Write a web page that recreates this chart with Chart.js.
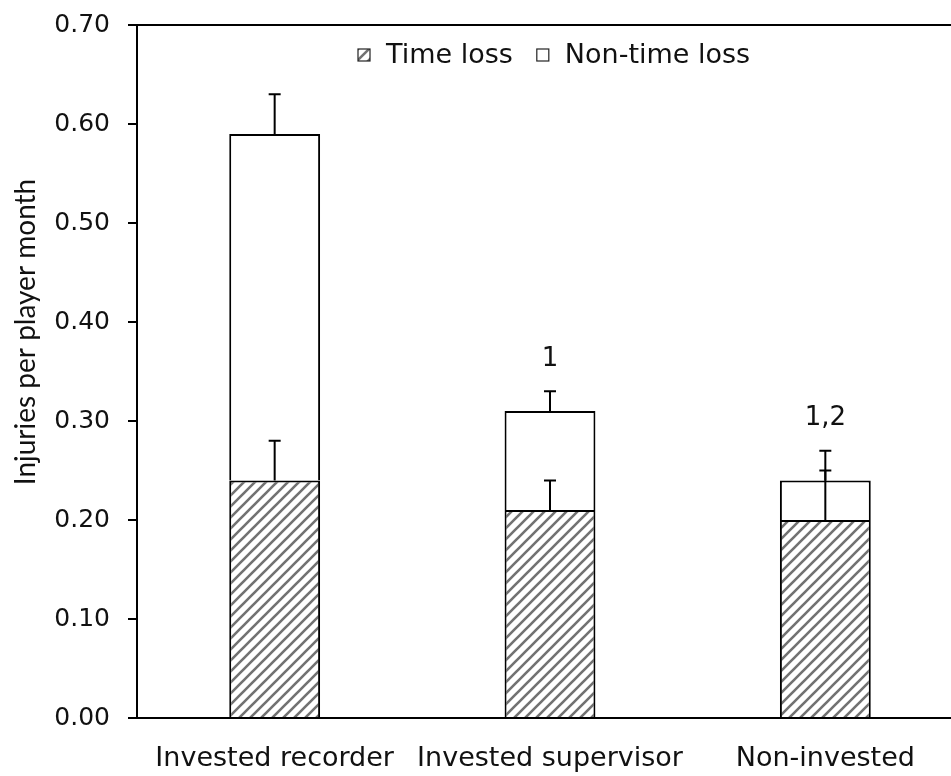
<!DOCTYPE html>
<html>
<head>
<meta charset="utf-8">
<script src="https://cdn.jsdelivr.net/npm/chart.js@4.4.1/dist/chart.umd.min.js"></script>
<style>
    html, body { margin: 0; padding: 0; background: #fff; overflow: hidden; }
</style>
</head>
<body>
<canvas id="plot" width="963" height="776"></canvas>
<script>
var categories = ["Invested recorder", "Invested supervisor", "Non-invested"];
var timeLoss = [0.24, 0.21, 0.20];
var nonTimeLoss = [0.35, 0.10, 0.04];
var timeLossErr = [0.04, 0.03, 0.05];
var nonTimeLossErr = [0.04, 0.02, 0.03];
var sigLabels = ["", "1", "1,2"];
var yTitle = "Injuries per player month";

var tickFont = "DejaVu Sans";

function hatchPattern() {
    var c = document.createElement("canvas");
    var s = 11;
    c.width = s;
    c.height = s;
    var g = c.getContext("2d");
    g.fillStyle = "#fff";
    g.fillRect(0, 0, s, s);
    g.strokeStyle = "#727272";
    g.lineWidth = 2.6;
    g.beginPath();
    g.moveTo(-s, s * 2); g.lineTo(s * 2, -s);
    g.moveTo(-s, s); g.lineTo(s, -s);
    g.moveTo(0, s * 2); g.lineTo(s * 2, 0);
    g.stroke();
    return g.createPattern(c, "repeat");
}

// error bars and the significance marks on top of the stacks
var errorBars = {
    id: "errorBars",
    afterDatasetsDraw: function(chart) {
        var ctx = chart.ctx;
        var y = chart.scales.y;
        var errs = [timeLossErr, nonTimeLossErr];
        ctx.save();
        ctx.strokeStyle = "#000";
        ctx.lineWidth = 2;
        chart.data.datasets.forEach(function(ds, i) {
            var meta = chart.getDatasetMeta(i);
            meta.data.forEach(function(bar, j) {
                var top = 0;
                for (var k = 0; k <= i; k++) {
                    top += chart.data.datasets[k].data[j];
                }
                var y0 = y.getPixelForValue(top);
                var y1 = y.getPixelForValue(top + errs[i][j]);
                ctx.beginPath();
                ctx.moveTo(bar.x, y0);
                ctx.lineTo(bar.x, y1);
                ctx.moveTo(bar.x - 6, y1);
                ctx.lineTo(bar.x + 6, y1);
                ctx.stroke();
            });
        });
        // significance labels
        ctx.fillStyle = "#111";
        ctx.font = "26px '" + tickFont + "'";
        ctx.textAlign = "center";
        ctx.textBaseline = "bottom";
        var meta = chart.getDatasetMeta(1);
        meta.data.forEach(function(bar, j) {
            if (!sigLabels[j]) return;
            var top = timeLoss[j] + nonTimeLoss[j] + nonTimeLossErr[j];
            ctx.fillText(sigLabels[j], bar.x, y.getPixelForValue(top) - 19);
        });
        ctx.restore();
    }
};

// legend sits inside the plot area, y title drawn a bit above centre
var innerLegend = {
    id: "innerLegend",
    afterDraw: function(chart) {
        var ctx = chart.ctx;
        var x = 358;
        var cy = 55;
        var box = 12;
        ctx.save();
        ctx.font = "27px '" + tickFont + "'";
        ctx.textBaseline = "middle";
        ctx.textAlign = "left";
        chart.data.datasets.forEach(function(ds, i) {
            ctx.fillStyle = ds.backgroundColor;
            ctx.fillRect(x, cy - box / 2, box, box);
            ctx.strokeStyle = "#222";
            ctx.lineWidth = 1.2;
            ctx.strokeRect(x, cy - box / 2, box, box);
            x += box + 16;
            ctx.fillStyle = "#111";
            ctx.fillText(ds.label, x, cy + 1);
            x += ctx.measureText(ds.label).width + 24;
        });
        ctx.translate(26, 332);
        ctx.rotate(-Math.PI / 2);
        ctx.font = "28px Lato";
        ctx.textAlign = "center";
        ctx.fillText(yTitle, 0, 0);
        ctx.restore();
    }
};

var chart;
function createChart(canvas) {
    chart = new Chart(canvas, {
        type: "bar",
        data: {
            labels: categories,
            datasets: [
            {
                label: "Time loss",
                data: timeLoss,
                backgroundColor: hatchPattern(),
                borderColor: "#000",
                borderWidth: 2,
            },
            {
                label: "Non-time loss",
                data: nonTimeLoss,
                backgroundColor: "#fff",
                borderColor: "#000",
                borderWidth: 2,
            },
            ]
        },
        options: {
            responsive: false,
            animation: false,
            layout: {
                padding: {top: 25, left: 0, right: 0, bottom: 0}
            },
            datasets: {
                bar: {
                    barPercentage: 0.33,
                    categoryPercentage: 1.0,
                }
            },
            scales: {
                x: {
                    stacked: true,
                    grid: {display: false},
                    border: {display: true, color: "#000", width: 2},
                    ticks: {
                        color: "#111",
                        padding: 17,
                        maxRotation: 0,
                        font: {family: tickFont, size: 27},
                    },
                    afterFit: function(scale) { scale.height = 58; }
                },
                y: {
                    stacked: true,
                    min: 0,
                    max: 0.7,
                    grid: {
                        color: function(ctx) {  // only the top border line
                            return ctx.tick && Math.abs(ctx.tick.value - 0.7) < 1e-6 ? "#000" : "rgba(0,0,0,0)";
                        },
                        lineWidth: 2,
                        tickColor: "#000",
                        tickLength: 9,
                    },
                    border: {display: true, color: "#000", width: 2},
                    ticks: {
                        stepSize: 0.1,
                        color: "#111",
                        padding: 18,
                        font: {family: tickFont, size: 25},
                        callback: function(v) { return v.toFixed(2); }
                    },
                    afterFit: function(scale) {
                        scale.width = 137;
                        scale.paddingTop = 0;
                        scale.paddingBottom = 0;
                    }
                }
            },
            plugins: {
                legend: {display: false},
                tooltip: {enabled: false},
            }
        },
        plugins: [errorBars, innerLegend]
    });
}

window.addEventListener("load", function() {
    createChart(document.getElementById("plot"));
});
</script>
</body>
</html>
